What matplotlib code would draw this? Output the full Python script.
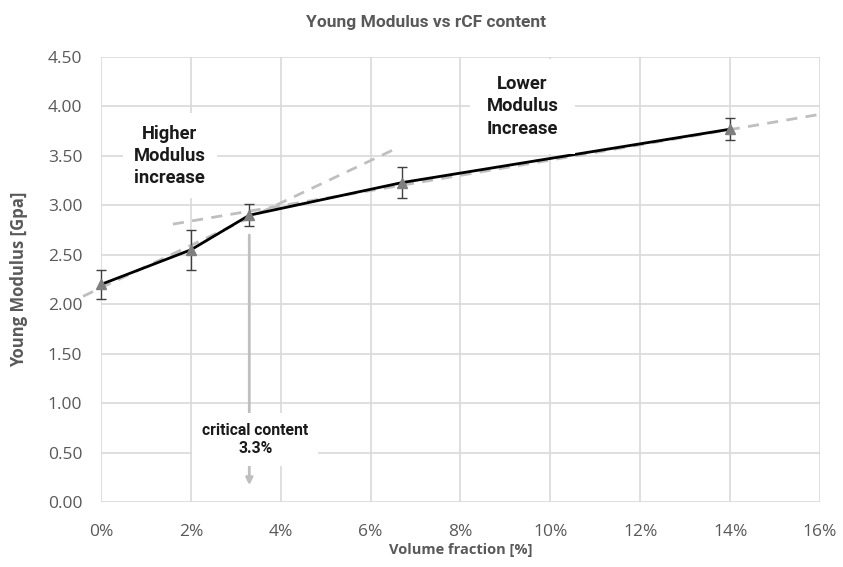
import matplotlib
matplotlib.use("Agg")
import matplotlib.pyplot as plt

# data
volume_fraction = [0, 2, 3.3, 6.7, 14]
young_modulus = [2.20, 2.55, 2.90, 3.23, 3.77]
modulus_err = [0.15, 0.20, 0.11, 0.16, 0.11]
trend_high_x = [-0.4, 6.5]
trend_high_y = [2.08, 3.56]
trend_low_x = [1.6, 16.0]
trend_low_y = [2.81, 3.92]
x_ticks = [0, 2, 4, 6, 8, 10, 12, 14, 16]
x_tick_labels = ["0%", "2%", "4%", "6%", "8%", "10%", "12%", "14%", "16%"]
y_ticks = [0, 0.5, 1.0, 1.5, 2.0, 2.5, 3.0, 3.5, 4.0, 4.5]
y_tick_labels = ["%.2f" % v for v in y_ticks]
critical_x = 3.3

plt.rcParams['font.family'] = ['Open Sans', 'DejaVu Sans']

fig = plt.figure(figsize=(8.43, 5.67), dpi=100)
ax = fig.add_axes([0.1198, 0.1146, 0.8529, 0.7849])

txt_col = "#595959"
ax.set_xlim(0, 16)
ax.set_ylim(0, 4.5)
ax.set_xticks(x_ticks)
ax.set_xticklabels(x_tick_labels)
ax.set_yticks(y_ticks)
ax.set_yticklabels(y_tick_labels)
ax.tick_params(length=0, labelsize=12.5, labelcolor=txt_col)
ax.tick_params(axis="x", pad=16)
ax.tick_params(axis="y", pad=13.5)
for s in ax.spines.values():
    s.set_visible(False)
ax.grid(True, color="#d9d9d9", linewidth=1.2)
ax.set_axisbelow(True)

# trendlines
ax.plot(trend_high_x, trend_high_y, color="#bfbfbf", lw=2, ls=(0, (4, 3)), zorder=3, clip_on=False)
ax.plot(trend_low_x, trend_low_y, color="#bfbfbf", lw=2, ls=(0, (4, 3)), zorder=3, clip_on=False)

# main series
ax.plot(volume_fraction, young_modulus, color="black", lw=2, zorder=4, clip_on=False)
eb = ax.errorbar(volume_fraction, young_modulus, yerr=modulus_err, fmt="none",
                 ecolor="#404040", elinewidth=1, capsize=3.5, capthick=1, zorder=5)
for artist in eb.lines[1] + eb.lines[2]:
    artist.set_clip_on(False)
ax.plot(volume_fraction, young_modulus, ls="none", marker="^", ms=7.5,
        color="#7f7f7f", zorder=6, clip_on=False)

# critical content arrow
ax.annotate("", xy=(critical_x, 0.17), xytext=(critical_x, 2.70),
            arrowprops=dict(arrowstyle="-|>", color="#bfbfbf", lw=2,
                            mutation_scale=10, shrinkA=0, shrinkB=0), zorder=3)
ax.text(3.43, 0.63, "critical content\n3.3%", ha="center", va="center",
        fontsize=11.3, fontweight="bold", color="#1a1a1a", linespacing=1.25,
        family=["Roboto", "DejaVu Sans"],
        bbox=dict(facecolor="white", edgecolor="none", pad=7), zorder=4)

ax.text(1.53, 3.50, "Higher\nModulus\nincrease", ha="center", va="center",
        fontsize=13.2, fontweight="bold", color="#1a1a1a", linespacing=1.3,
        family=["Roboto", "DejaVu Sans"],
        bbox=dict(facecolor="white", edgecolor="none", pad=8), zorder=4)
ax.text(9.38, 4.00, "Lower\nModulus\nIncrease", ha="center", va="center",
        fontsize=13.2, fontweight="bold", color="#1a1a1a", linespacing=1.3,
        family=["Roboto", "DejaVu Sans"],
        bbox=dict(facecolor="white", edgecolor="none", pad=12), zorder=4)

ax.set_xlabel("Volume fraction [%]", fontsize=10.5, fontweight="bold", color=txt_col, labelpad=2)
ax.set_ylabel("Young Modulus [Gpa]", fontsize=12, fontweight="bold", color=txt_col, labelpad=14)
fig.text(0.505, 0.960, "Young Modulus vs rCF content", ha="center", va="center",
         fontsize=12.5, fontweight="bold", color=txt_col, family=["Roboto", "DejaVu Sans"])

fig.savefig("out.png", dpi=100)
